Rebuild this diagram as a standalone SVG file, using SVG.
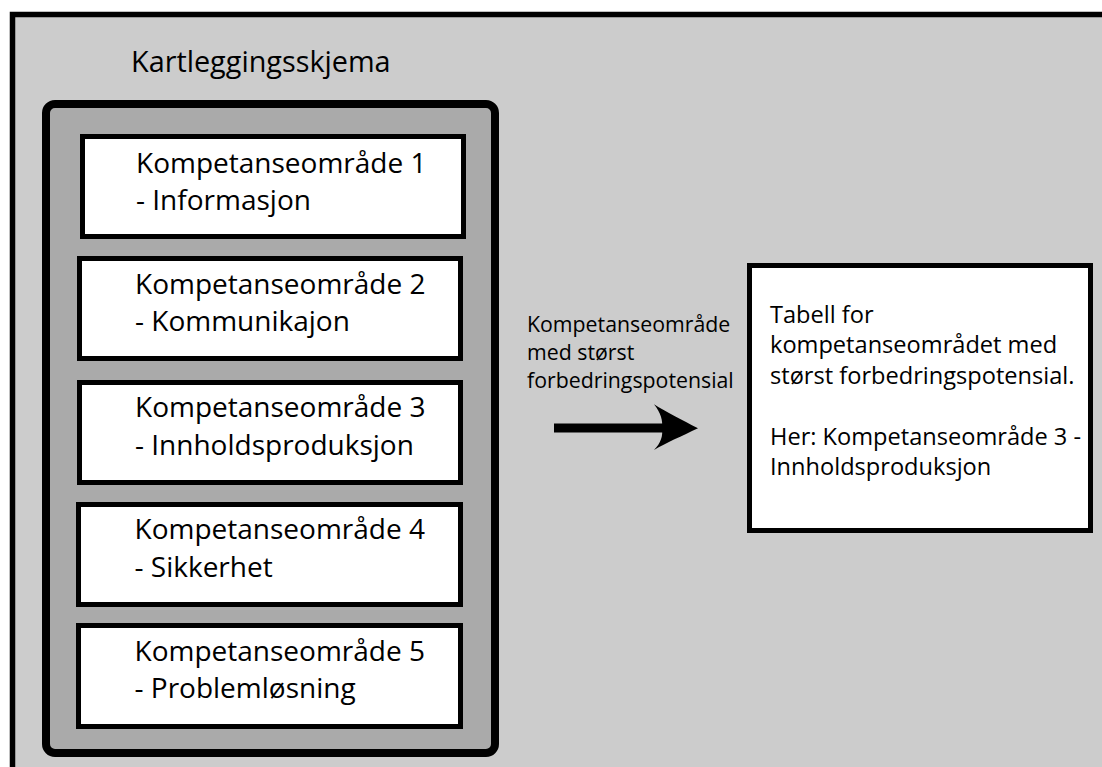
<svg xmlns="http://www.w3.org/2000/svg" width="1102" height="767" viewBox="0 0 1102 767">
<style>
  text { font-family: "Open Sans", "Liberation Sans", sans-serif; fill: #000; }
  .box { fill: #ffffff; stroke: #000; stroke-width: 5; }
  .bt { font-size: 28px; }
  .rt { font-size: 23.6px; }
  .lt { font-size: 21.3px; }
</style>
<rect x="0" y="0" width="1102" height="767" fill="#ffffff"/>
<rect id="frame" x="12.5" y="14.5" width="1100" height="770" fill="#cccccc" stroke="#000" stroke-width="5.5"/>
<g id="title">
  <text x="131" y="72" style="font-size:28.8px">Kartleggingsskjema</text>
</g>
<g id="kartleggingsskjema">
  <rect x="46" y="104" width="449" height="649" rx="9" fill="#aaaaaa" stroke="#000" stroke-width="8"/>
</g>
<g id="k1">
  <rect class="box" x="82.5" y="136.5" width="381" height="100"/>
  <text class="bt" x="136" y="172.5">Kompetanseområde 1</text>
  <text class="bt" x="136" y="209.5">- Informasjon</text>
</g>
<g id="k2">
  <rect class="box" x="79.5" y="258.5" width="381" height="100"/>
  <text class="bt" x="135" y="293.5">Kompetanseområde 2</text>
  <text class="bt" x="135" y="330.5">- Kommunikajon</text>
</g>
<g id="k3">
  <rect class="box" x="79.5" y="382.5" width="381" height="100"/>
  <text class="bt" x="135" y="417">Kompetanseområde 3</text>
  <text class="bt" x="135" y="455">- Innholdsproduksjon</text>
</g>
<g id="k4">
  <rect class="box" x="78.5" y="504.5" width="382" height="100"/>
  <text class="bt" x="134.5" y="538.5">Kompetanseområde 4</text>
  <text class="bt" x="134.5" y="576.5">- Sikkerhet</text>
</g>
<g id="k5">
  <rect class="box" x="78.5" y="625.5" width="382" height="101"/>
  <text class="bt" x="134.5" y="660.5">Kompetanseområde 5</text>
  <text class="bt" x="134.5" y="698">- Problemløsning</text>
</g>
<g id="connectors">
  <rect x="554" y="423.5" width="111" height="9" fill="#000"/>
  <path d="M698,428.3 C682,420 666,412 654,404.3 C661,413 663,421 662,428.3 C663,436 661,443 654,450 C666,443 682,436 698,428.3 Z" fill="#000"/>
  <text class="lt" x="527" y="331.5">Kompetanseområde</text>
  <text class="lt" x="527" y="359.5">med størst</text>
  <text class="lt" x="527" y="387.5">forbedringspotensial</text>
</g>
<g id="tabell">
  <rect class="box" x="749.5" y="265.5" width="341" height="265" stroke-width="5.5"/>
  <text class="rt" x="770" y="322.5">Tabell for</text>
  <text class="rt" x="770" y="353">kompetanseområdet med</text>
  <text class="rt" x="770" y="383.5">størst forbedringspotensial.</text>
  <text class="rt" x="770" y="444.5">Her: Kompetanseområde 3 -</text>
  <text class="rt" x="770" y="475">Innholdsproduksjon</text>
</g>
</svg>
